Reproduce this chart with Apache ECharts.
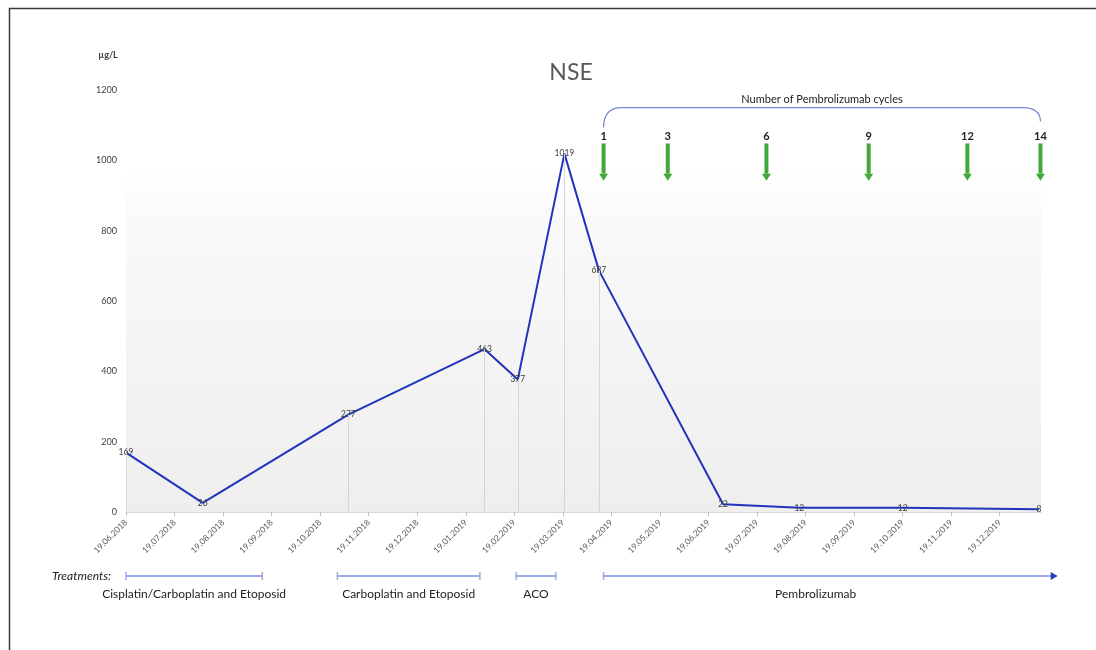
<!DOCTYPE html>
<html><head><meta charset="utf-8">
<script src="https://cdn.jsdelivr.net/npm/echarts@6/dist/echarts.min.js"></script>
<style>html,body{margin:0;padding:0;background:#fff}#c{width:1096px;height:650px}</style>
</head><body><div id="c"></div>
<script>
// ---- data ----
const xTickLabels = ['19.06.2018','19.07.2018','19.08.2018','19.09.2018','19.10.2018','19.11.2018','19.12.2018','19.01.2019','19.02.2019','19.03.2019','19.04.2019','19.05.2019','19.06.2019','19.07.2019','19.08.2019','19.09.2019','19.10.2019','19.11.2019','19.12.2019'];
const yTicks = [0,200,400,600,800,1000,1200];
const sampleDates = ['19.06.2018','06.08.2018','06.11.2018','31.01.2019','21.02.2019','20.03.2019','11.04.2019','28.06.2019','15.08.2019','19.10.2019','13.01.2020'];
const nseValues = [169,26,277,463,377,1019,687,22,12,12,8];
const dropLineIdx = [0,2,3,4,5,6];
const cycleNumbers = ['1','3','6','9','12','14'];
const cycleDates = ['14.04.2019','24.05.2019','25.07.2019','28.09.2019','29.11.2019','14.01.2020'];
const treatments = ['Cisplatin/Carboplatin and Etoposid','Carboplatin and Etoposid','ACO','Pembrolizumab'];
const treatmentStart = ['19.06.2018','30.10.2018','20.02.2019','14.04.2019'];
const treatmentEnd = ['13.09.2018','28.01.2019','15.03.2019','25.01.2020'];
const title = 'NSE';
const unit = 'µg/L';

// ---- date -> month offset from 19.06.2018 ----
function dim(y,m){return new Date(y,m,0).getDate();}
function toMonths(s){
  const [d,m,y]=s.split('.').map(Number);
  let k=(y-2018)*12+(m-6);
  if(d>=19) return k+(d-19)/dim(y,m);
  let pm=m-1, py=y; if(pm<1){pm=12;py--;}
  const pd=dim(py,pm);
  return k-1+(pd-19+d)/pd;
}
const FONT='Lato, "Open Sans", sans-serif';
const seriesData = sampleDates.map((d,i)=>[toMonths(d), nseValues[i]]);

const chart = echarts.init(document.getElementById('c'));
chart.setOption({
  animation:false,
  grid:{left:126,right:55,top:90,bottom:138,show:true,borderWidth:0,
    backgroundColor:new echarts.graphic.LinearGradient(0,0,0,1,[{offset:0,color:'#ffffff'},{offset:0.18,color:'#ffffff'},{offset:0.32,color:'#f9f9f9'},{offset:1,color:'#eeeeee'}])},
  xAxis:{type:'value',min:0,max:18.85,interval:1,
    axisLine:{show:true,lineStyle:{color:'#d9d9d9'}},
    axisTick:{show:true,length:4,lineStyle:{color:'#bfbfbf'}},
    splitLine:{show:false},
    axisLabel:{rotate:45,margin:9,fontSize:8.5,color:'#595959',fontFamily:FONT,showMaxLabel:false,
      formatter:v=>Number.isInteger(v)&&xTickLabels[v]?xTickLabels[v]:''}},
  yAxis:{type:'value',min:yTicks[0],max:yTicks[yTicks.length-1],interval:200,
    axisLine:{show:false},axisTick:{show:false},splitLine:{show:false},
    axisLabel:{fontSize:9,color:'#404040',fontFamily:FONT,margin:9,formatter:v=>String(v)}},
  series:[{type:'line',data:seriesData,symbol:'circle',symbolSize:1,showSymbol:true,
    itemStyle:{color:'rgba(0,0,0,0)'},
    lineStyle:{color:'#2233bb',width:2},
    label:{show:true,position:'inside',fontSize:8.5,color:'#404040',fontFamily:FONT,formatter:p=>String(p.value[1])},
    markLine:{silent:true,symbol:'none',label:{show:false},lineStyle:{color:'#d6d6d6',width:1,type:'solid'},
      data:dropLineIdx.map(i=>[{coord:[seriesData[i][0],0]},{coord:[seriesData[i][0],seriesData[i][1]]}])},
    z:3}]
});

function px(m){return chart.convertToPixel({xAxisIndex:0},m);}
function py(v){return chart.convertToPixel({yAxisIndex:0},v);}
const g=[];
// frame
g.push({type:'polyline',shape:{points:[[9.5,650],[9.5,8.5],[1096,8.5]]},style:{stroke:'#3a3a3a',lineWidth:1.5,fill:null}});
// title & unit
g.push({type:'text',x:571,y:73,style:{text:title,font:'23px '+FONT,fill:'#595959',textAlign:'center',textVerticalAlign:'middle'}});
g.push({type:'text',x:108,y:55,style:{text:unit,font:'bold 9px '+FONT,fill:'#404040',textAlign:'center',textVerticalAlign:'middle'}});
// cycles
const cx=cycleDates.map(d=>px(toMonths(d)));
const x0=cx[0], x1=cx[cx.length-1];
const yb=py(1150);
g.push({type:'bezierCurve',shape:{x1:x0,y1:yb+20,cpx1:x0,cpy1:yb,x2:x0+18,y2:yb},style:{stroke:'#7384d6',lineWidth:1.2,fill:null}});
g.push({type:'line',shape:{x1:x0+18,y1:yb,x2:x1-18,y2:yb},style:{stroke:'#7384d6',lineWidth:1.2}});
g.push({type:'bezierCurve',shape:{x1:x1-18,y1:yb,cpx1:x1,cpy1:yb,x2:x1,y2:yb+14},style:{stroke:'#7384d6',lineWidth:1.2,fill:null}});
g.push({type:'text',x:(x0+x1)/2,y:yb-8,style:{text:'Number of Pembrolizumab cycles',font:'11px '+FONT,fill:'#222',textAlign:'center',textVerticalAlign:'middle'}});
cx.forEach((x,i)=>{
  g.push({type:'text',x:x,y:py(1068),style:{text:cycleNumbers[i],font:'bold 11px '+FONT,fill:'#222',textAlign:'center',textVerticalAlign:'middle'}});
  const top=py(1048), hb=py(962), bot=py(942);
  g.push({type:'rect',shape:{x:x-2,y:top,width:4,height:hb-top},style:{fill:'#43a83a'}});
  g.push({type:'polygon',shape:{points:[[x-4.5,hb],[x+4.5,hb],[x,bot]]},style:{fill:'#43a83a'}});
});
// treatments
const ty=576;
g.push({type:'text',x:52,y:ty,style:{text:'Treatments:',font:'italic 12px '+FONT,fill:'#222',textAlign:'left',textVerticalAlign:'middle'}});
treatments.forEach((t,i)=>{
  const a=px(toMonths(treatmentStart[i])), b=px(toMonths(treatmentEnd[i]));
  const last=i===treatments.length-1;
  g.push({type:'line',shape:{x1:a,y1:ty,x2:last?b-6:b,y2:ty},style:{stroke:'#9dabe8',lineWidth:2}});
  g.push({type:'line',shape:{x1:a,y1:ty-4,x2:a,y2:ty+4},style:{stroke:'#9dabe8',lineWidth:1.5}});
  if(last){
    g.push({type:'polygon',shape:{points:[[b-7,ty-4],[b-7,ty+4],[b,ty]]},style:{fill:'#2a3fc0'}});
  } else {
    g.push({type:'line',shape:{x1:b,y1:ty-4,x2:b,y2:ty+4},style:{stroke:'#9dabe8',lineWidth:1.5}});
  }
  g.push({type:'text',x:(a+(last?b-30:b))/2,y:ty+18,style:{text:t,font:'12px '+FONT,fill:'#222',textAlign:'center',textVerticalAlign:'middle'}});
});
chart.setOption({graphic:g});
</script></body></html>
